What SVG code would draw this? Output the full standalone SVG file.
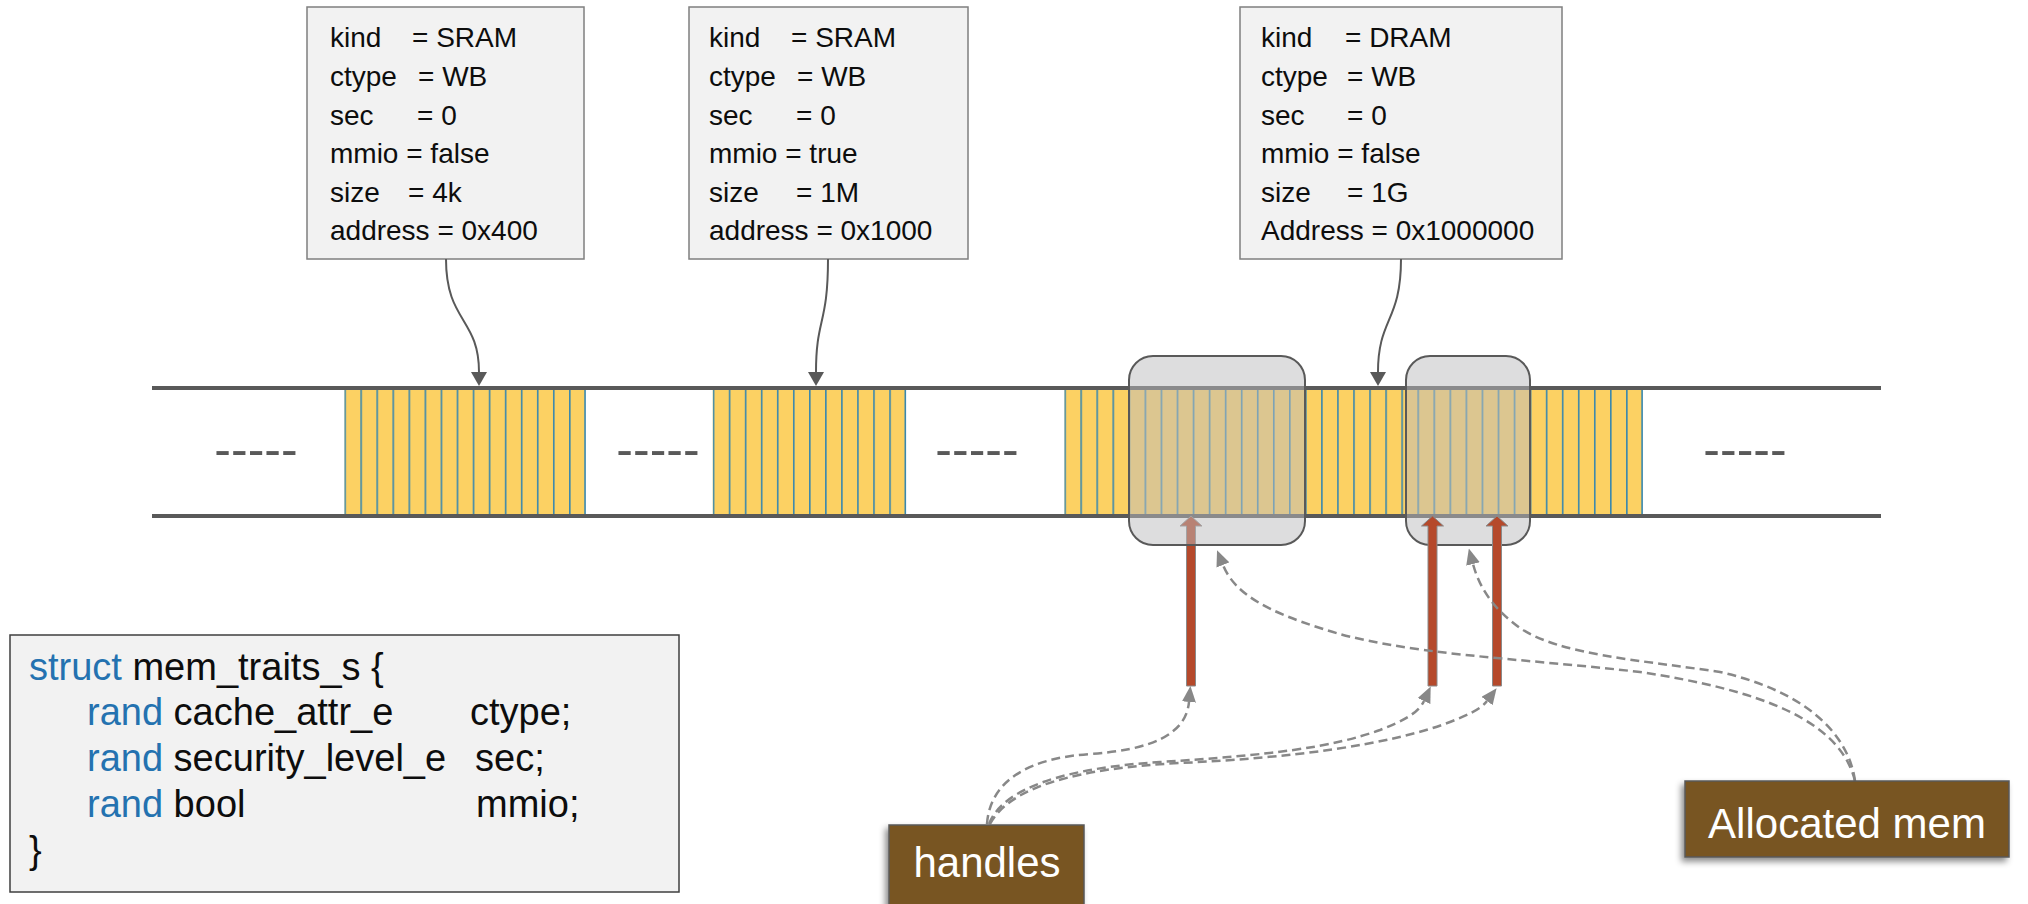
<svg xmlns="http://www.w3.org/2000/svg" width="2028" height="904" viewBox="0 0 2028 904">
<style>
.t{font-family:"Liberation Sans",Arial,sans-serif;font-size:28px;fill:#0d0d0d}
.code{font-family:"Liberation Sans",Arial,sans-serif;font-size:38px;fill:#0d0d0d}
.kw{fill:#2472b0}
.lbl{font-family:"Liberation Sans",Arial,sans-serif;font-size:42px;fill:#ffffff;text-anchor:middle}
.dash{font-family:"Liberation Sans",Arial,sans-serif;font-size:50px;fill:#595959;text-anchor:middle}
.tbox{fill:#f2f2f2;stroke:#7f7f7f;stroke-width:1.5}
.rail{stroke:#595959;stroke-width:4}
.ov{fill:#bbbbbe;fill-opacity:0.5;stroke:#595959;stroke-width:2}
.solid{fill:none;stroke:#595959;stroke-width:2;marker-end:url(#ah)}
.dsh{fill:none;stroke:#888888;stroke-width:2.5;stroke-dasharray:9 5;marker-end:url(#dah)}
.harrow{fill:#b5492b;stroke:#8a8a8a;stroke-width:1}
.tag{fill:#785524;stroke:#595959;stroke-width:1.5;filter:url(#shadow)}
</style>
<defs>
<pattern id="cells" patternUnits="userSpaceOnUse" x="0" y="0" width="16.05" height="124">
<rect x="0" y="0" width="16.05" height="124" fill="#fcd163"/>
<line x1="0.8" y1="0" x2="0.8" y2="124" stroke="#3a88ae" stroke-width="1.6"/>
</pattern>
<marker id="ah" viewBox="0 0 14 16" refX="0" refY="8" markerWidth="14" markerHeight="16" markerUnits="userSpaceOnUse" orient="auto">
<path d="M0,0 L14,8 L0,16 z" fill="#595959"/>
</marker>
<marker id="dah" viewBox="0 0 16 14" refX="0" refY="7" markerWidth="16" markerHeight="14" markerUnits="userSpaceOnUse" orient="auto">
<path d="M0,0 L16,7 L0,14 z" fill="#888888"/>
</marker>
<filter id="shadow" x="-10%" y="-20%" width="120%" height="150%">
<feDropShadow dx="-3" dy="4" stdDeviation="3" flood-color="#000" flood-opacity="0.45"/>
</filter>
</defs>
<rect x="0" y="0" width="2028" height="904" fill="#ffffff"/>

<g id="trait-sram-4k">
<rect class="tbox" x="307" y="7" width="277" height="252"/>
<text class="t" y="47"><tspan x="330">kind </tspan><tspan x="412">= SRAM</tspan></text>
<text class="t" y="86"><tspan x="330">ctype </tspan><tspan x="418">= WB</tspan></text>
<text class="t" y="124.5"><tspan x="330">sec </tspan><tspan x="417">= 0</tspan></text>
<text class="t" x="330" y="163">mmio = false</text>
<text class="t" y="201.5"><tspan x="330">size </tspan><tspan x="408">= 4k</tspan></text>
<text class="t" x="330" y="240">address = 0x400</text>
</g>

<g id="trait-sram-1m">
<rect class="tbox" x="689" y="7" width="279" height="252"/>
<text class="t" y="47"><tspan x="709">kind </tspan><tspan x="791">= SRAM</tspan></text>
<text class="t" y="86"><tspan x="709">ctype </tspan><tspan x="797">= WB</tspan></text>
<text class="t" y="124.5"><tspan x="709">sec </tspan><tspan x="796">= 0</tspan></text>
<text class="t" x="709" y="163">mmio = true</text>
<text class="t" y="201.5"><tspan x="709">size </tspan><tspan x="796">= 1M</tspan></text>
<text class="t" x="709" y="240">address = 0x1000</text>
</g>

<g id="trait-dram-1g">
<rect class="tbox" x="1240" y="7" width="322" height="252"/>
<text class="t" y="47"><tspan x="1261">kind </tspan><tspan x="1345">= DRAM</tspan></text>
<text class="t" y="86"><tspan x="1261">ctype </tspan><tspan x="1347">= WB</tspan></text>
<text class="t" y="124.5"><tspan x="1261">sec </tspan><tspan x="1347">= 0</tspan></text>
<text class="t" x="1261" y="163">mmio = false</text>
<text class="t" y="201.5"><tspan x="1261">size </tspan><tspan x="1347">= 1G</tspan></text>
<text class="t" x="1261" y="240">Address = 0x1000000</text>
</g>

<g id="memory">
<g transform="translate(344.3,390)"><rect x="0" y="0" width="240.75" height="124" fill="url(#cells)"/><line x1="240.75" y1="0" x2="240.75" y2="124" stroke="#3a88ae" stroke-width="1.6"/></g>
<g transform="translate(712.7,390)"><rect x="0" y="0" width="192.6" height="124" fill="url(#cells)"/><line x1="192.6" y1="0" x2="192.6" y2="124" stroke="#3a88ae" stroke-width="1.6"/></g>
<g transform="translate(1064.3,390)"><rect x="0" y="0" width="577.8" height="124" fill="url(#cells)"/><line x1="577.8" y1="0" x2="577.8" y2="124" stroke="#3a88ae" stroke-width="1.6"/></g>
<line class="rail" x1="152" y1="388" x2="1881" y2="388"/>
<line class="rail" x1="152" y1="516" x2="1881" y2="516"/>
<text class="dash" x="256" y="466">-----</text>
<text class="dash" x="658" y="466">-----</text>
<text class="dash" x="977" y="466">-----</text>
<text class="dash" x="1745" y="466">-----</text>
</g>

<g id="handle-arrow-1">
<polygon class="harrow" points="1186.5,686 1186.5,526 1180,526 1191,516 1202,526 1195.5,526 1195.5,686"/>
</g>

<g id="alloc-region-1">
<rect class="ov" x="1129" y="356" width="176" height="189" rx="24"/>
</g>
<g id="alloc-region-2">
<rect class="ov" x="1406" y="356" width="124" height="189" rx="24"/>
</g>

<g id="handle-arrows-2-3">
<polygon class="harrow" points="1428,686 1428,526 1421.5,526 1432.5,516 1443.5,526 1437,526 1437,686"/>
<polygon class="harrow" points="1492.5,686 1492.5,526 1486,526 1497,516 1508,526 1501.5,526 1501.5,686"/>
</g>

<g id="connectors">
<path class="solid" d="M446,259 C446,322 479,318 479,372"/>
<path class="solid" d="M828,259 C828,325 816,318 816,372"/>
<path class="solid" d="M1401,259 C1401,322 1378,318 1378,372"/>
<path class="dsh" d="M987,824 C990,780 1030,758 1090,754 C1150,750 1186,735 1189,702"/>
<path class="dsh" d="M989,824 C1003,788 1065,768 1160,762 C1270,755 1330,748 1380,730 C1400,722 1418,714 1424,701"/>
<path class="dsh" d="M990,824 C1010,786 1080,768 1180,763 C1290,758 1390,745 1450,722 C1468,715 1481,709 1487,701"/>
<path class="dsh" d="M1855,781 C1848,730 1800,690 1720,672 C1640,660 1560,655 1520,628 C1495,610 1480,590 1473,564"/>
<path class="dsh" d="M1855,781 C1840,720 1760,690 1640,672 C1520,658 1400,655 1320,628 C1270,612 1235,595 1223,565"/>
</g>

<g id="struct">
<rect x="10" y="635" width="669" height="257" fill="#f2f2f2" stroke="#3f3f3f" stroke-width="1.5"/>
<text class="code" x="29" y="680"><tspan class="kw">struct</tspan> mem_traits_s {</text>
<text class="code" y="725"><tspan x="87" class="kw">rand</tspan> cache_attr_e<tspan x="470">ctype;</tspan></text>
<text class="code" y="771"><tspan x="87" class="kw">rand</tspan> security_level_e<tspan x="475">sec;</tspan></text>
<text class="code" y="817"><tspan x="87" class="kw">rand</tspan> bool<tspan x="476">mmio;</tspan></text>
<text class="code" x="29" y="863">}</text>
</g>

<g id="handles">
<rect class="tag" x="889" y="825" width="195" height="90"/>
<text class="lbl" x="987" y="877">handles</text>
</g>

<g id="allocated-mem">
<rect class="tag" x="1685" y="781" width="324" height="76"/>
<text class="lbl" x="1847" y="838">Allocated mem</text>
</g>
</svg>
